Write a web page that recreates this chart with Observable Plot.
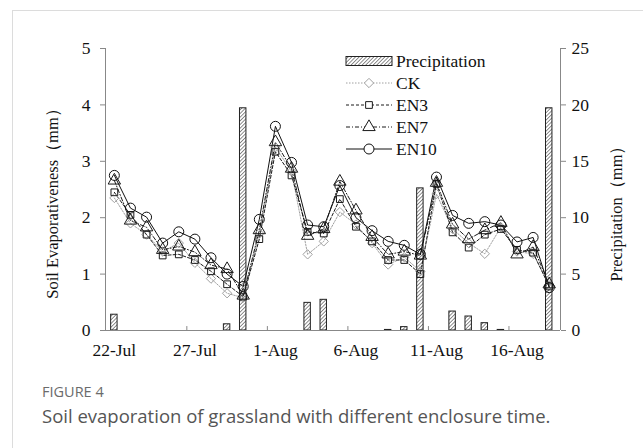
<!DOCTYPE html>
<html><head><meta charset="utf-8">
<script src="https://cdn.jsdelivr.net/npm/d3@7"></script>
<script src="https://cdn.jsdelivr.net/npm/@observablehq/plot@0.6"></script>
<style>
html,body{margin:0;padding:0;background:#fff}
body{width:643px;height:448px;overflow:hidden;position:relative;font-family:"Liberation Serif",serif}
#card{position:absolute;left:12px;top:10px;width:700px;height:520px;border-left:1px solid #dcdcdc;border-top:1px solid #dcdcdc}
#chart{position:absolute;left:0;top:0}
#legend{position:absolute;left:0;top:0}
.cap1{position:absolute;left:42px;top:382px;font:14.5px "Open Sans",sans-serif;color:#6b6b6b;line-height:normal}
.cap2{position:absolute;left:42px;top:402.5px;font:18.5px "Open Sans",sans-serif;color:#555;white-space:nowrap;line-height:normal}
</style></head>
<body>
<div id="card"></div>
<div id="chart"></div>
<svg id="legend" width="643" height="200"></svg>
<div class="cap1">FIGURE 4</div>
<div class="cap2">Soil evaporation of grassland with different enclosure time.</div>
<script>
const dates = ["22-Jul","23-Jul","24-Jul","25-Jul","26-Jul","27-Jul","28-Jul","29-Jul","30-Jul","31-Jul",
  "1-Aug","2-Aug","3-Aug","4-Aug","5-Aug","6-Aug","7-Aug","8-Aug","9-Aug","10-Aug",
  "11-Aug","12-Aug","13-Aug","14-Aug","15-Aug","16-Aug","17-Aug","18-Aug"];
const ck   = [2.35,1.90,1.70,1.40,1.55,1.20,0.92,0.66,0.58,1.72,3.25,2.82,1.35,1.58,2.10,1.88,1.55,1.17,1.30,1.05,2.42,1.80,1.55,1.36,1.83,1.40,1.36,0.80];
const en3  = [2.45,2.05,1.70,1.33,1.35,1.25,1.05,0.82,0.60,1.62,3.17,2.75,1.75,1.72,2.33,1.84,1.58,1.25,1.25,1.00,2.60,1.74,1.47,1.70,1.80,1.43,1.38,0.78];
const en7  = [2.66,1.95,1.83,1.43,1.49,1.39,1.16,1.09,0.62,1.78,3.34,2.87,1.68,1.80,2.64,2.13,1.66,1.35,1.40,1.33,2.62,1.88,1.62,1.78,1.91,1.35,1.48,0.82];
const en10 = [2.75,2.17,2.01,1.55,1.75,1.62,1.29,1.00,0.78,1.97,3.62,2.98,1.87,1.84,2.57,2.00,1.77,1.58,1.51,1.35,2.72,2.04,1.90,1.93,1.87,1.57,1.65,0.76];
const precipitation = [1.4,0,0,0,0,0,0,0.55,19.7,0,0,0,2.45,2.72,0,0,0,0.05,0.3,12.6,0,1.68,1.24,0.65,0.05,0,0,19.7];
const tickLabels = ["22-Jul","27-Jul","1-Aug","6-Aug","11-Aug","16-Aug"];
const yTicks = [0,1,2,3,4,5];
const precipTicks = [0,5,10,15,20,25];
const precipPerUnit = 5; // 25 mm on the right axis ↔ 5 mm on the left axis

const rows = dates.map((d,i)=>({i, date:d, ck:ck[i], en3:en3[i], en7:en7[i], en10:en10[i], p:precipitation[i]}));
const series = [
  {key:"ck",  name:"CK",   stroke:"#a0a0a0", dash:"1.5,1.5", symbol:"diamond2", r:4.2},
  {key:"en3", name:"EN3",  stroke:"#1a1a1a", dash:"3,2",     symbol:"square",   r:3.8},
  {key:"en7", name:"EN7",  stroke:"#1a1a1a", dash:"4,2,1,2", symbol:"triangle", r:4.6},
  {key:"en10",name:"EN10", stroke:"#111",    dash:null,      symbol:"circle",   r:5}
];
const xDomain = [-0.55, dates.length - 0.3];
const boundaries = tickLabels.slice(1).map(t => dates.indexOf(t) - 0.5);
const axisColor = "#888";
const font = "Liberation Serif";

const marks = [
  Plot.rectY(rows.filter(d=>d.p>0), {x1:d=>d.i-0.2, x2:d=>d.i+0.2, y:d=>d.p/precipPerUnit, fill:"url(#hatch)", stroke:"#222", strokeWidth:1}),
  Plot.ruleY([0], {stroke:axisColor}),
  Plot.ruleX([xDomain[0], xDomain[1]], {stroke:axisColor}),
  Plot.ruleX(boundaries, {y1:0, y2:0.07, stroke:axisColor}),
  Plot.axisY({anchor:"left", ticks:yTicks, tickFormat:d=>String(d), tickSize:5, tickPadding:10, fontSize:17.5, fontFamily:font, label:null, stroke:axisColor, color:"#111"}),
  Plot.axisY({anchor:"right", ticks:precipTicks.map(t=>t/precipPerUnit), tickFormat:d=>String(Math.round(d*precipPerUnit)), tickSize:5, tickPadding:6, fontSize:17.5, fontFamily:font, label:null, stroke:axisColor, color:"#111"}),
  Plot.axisX({ticks:tickLabels.map(t=>dates.indexOf(t)), tickFormat:i=>dates[i], tickSize:0, tickPadding:13, fontSize:17.5, fontFamily:font, label:null, color:"#111"}),
  Plot.text(["Soil Evaporativeness（mm）"], {frameAnchor:"left", rotate:-90, textAnchor:"middle", dx:-53, dy:10, fontSize:16.5, fontFamily:font, fill:"#111"}),
  Plot.text(["Precipitation（mm）"], {frameAnchor:"right", rotate:-90, textAnchor:"middle", dx:56, dy:20, fontSize:16.5, fontFamily:font, fill:"#111"})
];
for (const s of series) {
  marks.push(Plot.lineY(rows, {x:"i", y:s.key, stroke:s.stroke, strokeWidth:1, strokeDasharray:s.dash}));
}
for (const s of series) {
  marks.push(Plot.dot(rows, {x:"i", y:s.key, symbol:s.symbol, r:s.r, stroke:s.stroke, strokeWidth:1, fill:"none"}));
}

const chart = Plot.plot({
  width:643, height:360,
  marginLeft:105, marginRight:83, marginTop:48, marginBottom:30,
  style:{fontFamily:font, background:"transparent", color:"#111"},
  x:{type:"linear", domain:xDomain, axis:null},
  y:{domain:[0,5], axis:null},
  marks
});
const defs = `<defs><pattern id="hatch" patternUnits="userSpaceOnUse" width="2.6" height="2.6" patternTransform="rotate(45)">
<rect width="2.6" height="2.6" fill="#fff"/><line x1="0" y1="0" x2="0" y2="2.6" stroke="#444" stroke-width="1.2"/></pattern></defs>`;
chart.insertAdjacentHTML("afterbegin", defs);
document.getElementById("chart").appendChild(chart);

// legend
const lg = d3.select("#legend");
lg.append("defs").html(`<pattern id="hatch2" patternUnits="userSpaceOnUse" width="2.6" height="2.6" patternTransform="rotate(45)">
<rect width="2.6" height="2.6" fill="#fff"/><line x1="0" y1="0" x2="0" y2="2.6" stroke="#444" stroke-width="1.2"/></pattern>`);
const lx = 346, lw = 46, tx = 396, y0 = 61, step = 22;
lg.append("rect").attr("x", lx).attr("y", y0-4.5).attr("width", lw).attr("height", 9)
  .attr("fill","url(#hatch2)").attr("stroke","#222");
lg.append("text").attr("x", tx).attr("y", y0).attr("dy","0.35em").attr("font-family",font).attr("font-size",17.5).attr("fill","#111").text("Precipitation");
const symMap = {circle:d3.symbolCircle, square:d3.symbolSquare, triangle:d3.symbolTriangle, diamond2:d3.symbolDiamond2};
series.forEach((s,k)=>{
  const y = y0 + step*(k+1);
  lg.append("line").attr("x1",lx).attr("x2",lx+lw).attr("y1",y).attr("y2",y)
    .attr("stroke",s.stroke).attr("stroke-dasharray",s.dash);
  lg.append("path").attr("transform",`translate(${lx+lw/2},${y})`)
    .attr("d", d3.symbol(symMap[s.symbol], Math.PI*s.r*s.r)()).attr("fill","#fff").attr("stroke",s.stroke);
  lg.append("text").attr("x", tx).attr("y", y).attr("dy","0.35em").attr("font-family",font).attr("font-size",17.5).attr("fill","#111").text(s.name);
});
</script>
</body></html>
